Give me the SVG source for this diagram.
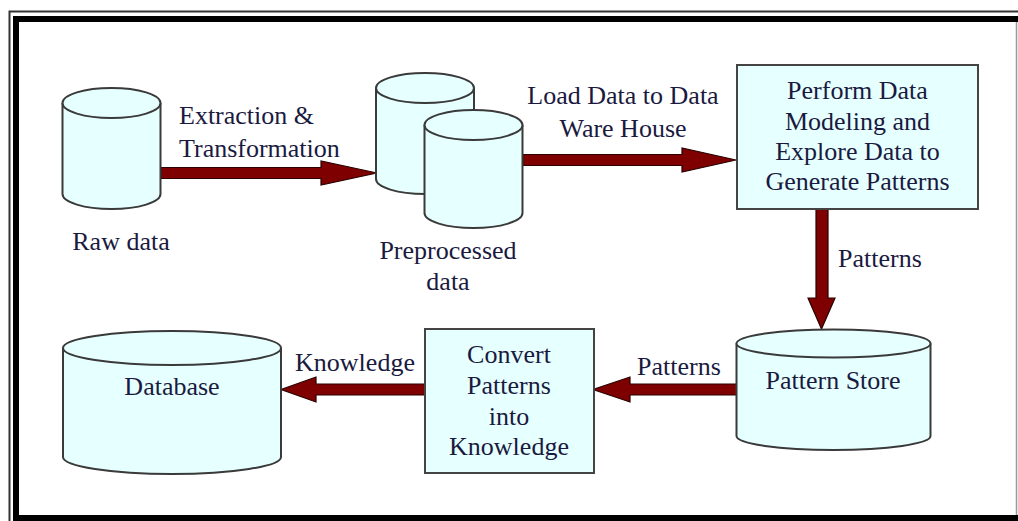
<svg xmlns="http://www.w3.org/2000/svg" width="1018" height="521" viewBox="0 0 1018 521">
<style>
.cyl{fill:#e6ffff;stroke:#3a3a3a;stroke-width:2}
.box{fill:#e6ffff;stroke:#444;stroke-width:2}
.arr{fill:#7f0000;stroke:#2a0000;stroke-width:1.2;stroke-linejoin:miter}
text{font-family:"Liberation Serif","Times New Roman",serif;font-size:26px;fill:#1a1a40}
.c{text-anchor:middle}
</style>
<rect x="0" y="0" width="1018" height="521" fill="#ffffff"/>
<g id="frame">
<path d="M9.5,521 V11.5 H1018" fill="none" stroke="#333" stroke-width="2"/>
<rect x="13" y="16" width="1005" height="6" fill="#000"/>
<rect x="13" y="16" width="6" height="505" fill="#000"/>
<rect x="19" y="515" width="999" height="6" fill="#000"/>
<line x1="1016.5" y1="22" x2="1016.5" y2="515" stroke="#999" stroke-width="1.5"/>
</g>
<g id="connectors">
<polygon class="arr" points="161,167.5 321,167.5 321,161 377,173 321,185 321,178.5 161,178.5"/>
<polygon class="arr" points="523,154.5 682,154.5 682,148 736,160 682,172 682,165.5 523,165.5"/>
<polygon class="arr" points="816,209 828,209 828,298 835,298 821.5,329 808,298 816,298"/>
<polygon class="arr" points="737,384 630,384 630,377 593,389.5 630,402 630,395 737,395"/>
<polygon class="arr" points="425,384 316,384 316,377 281,389.5 316,402 316,395 425,395"/>
<text x="179" y="124">Extraction &amp;</text>
<text x="179" y="157">Transformation</text>
<text class="c" x="623" y="104">Load Data to Data</text>
<text class="c" x="623" y="137">Ware House</text>
<text x="838" y="267">Patterns</text>
<text class="c" x="679" y="375">Patterns</text>
<text class="c" x="355" y="371">Knowledge</text>
</g>
<g id="raw-data">
<path class="cyl" d="M62.5,103 V194 A49,15 0 0 0 160.5,194 V103"/>
<ellipse class="cyl" cx="111.5" cy="103" rx="49" ry="15"/>
<text class="c" x="121" y="250">Raw data</text>
</g>
<g id="preprocessed-data">
<path class="cyl" d="M376,88 V179 A49,15 0 0 0 474,179 V88"/>
<ellipse class="cyl" cx="425" cy="88" rx="49" ry="15"/>
<path class="cyl" d="M424.5,125 V213 A49,15 0 0 0 522.5,213 V125"/>
<ellipse class="cyl" cx="473.5" cy="125" rx="49" ry="15"/>
<text class="c" x="448" y="259">Preprocessed</text>
<text class="c" x="448" y="290">data</text>
</g>
<g id="modeling">
<rect class="box" x="737" y="65" width="241" height="144"/>
<text class="c" x="857.5" y="99">Perform Data</text>
<text class="c" x="857.5" y="130">Modeling and</text>
<text class="c" x="857.5" y="160">Explore Data to</text>
<text class="c" x="857.5" y="190">Generate Patterns</text>
</g>
<g id="pattern-store">
<path class="cyl" d="M736.5,343.5 V436 A97,14 0 0 0 930.5,436 V343.5"/>
<ellipse class="cyl" cx="833.5" cy="343.5" rx="97" ry="14"/>
<text class="c" x="833" y="389">Pattern Store</text>
</g>
<g id="convert">
<rect class="box" x="425" y="329" width="169" height="144"/>
<text class="c" x="509" y="363">Convert</text>
<text class="c" x="509" y="394">Patterns</text>
<text class="c" x="509" y="425">into</text>
<text class="c" x="509" y="455">Knowledge</text>
</g>
<g id="database">
<path class="cyl" d="M63,348 V457 A109,17 0 0 0 281,457 V348"/>
<ellipse class="cyl" cx="172" cy="348" rx="109" ry="17"/>
<text class="c" x="172" y="395">Database</text>
</g>
</svg>
